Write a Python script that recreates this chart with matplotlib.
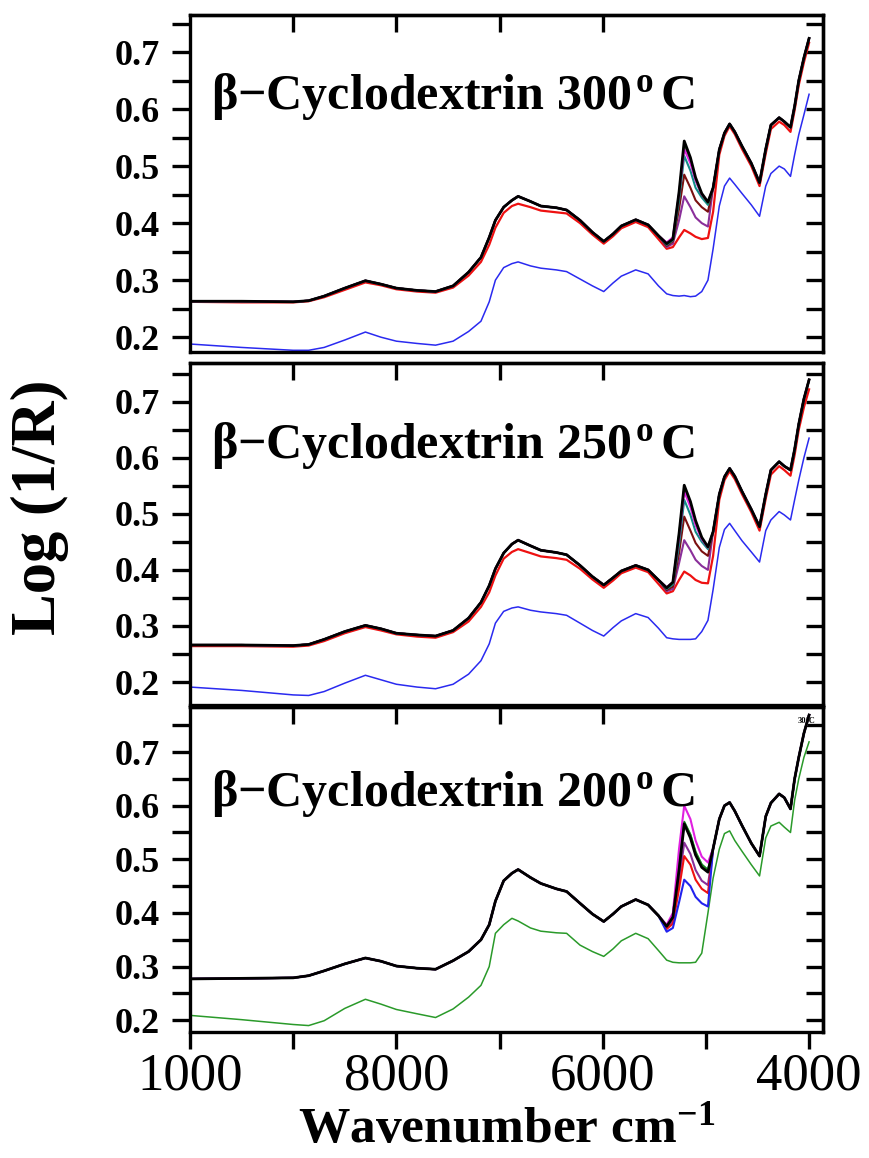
import matplotlib
matplotlib.use("Agg")
import matplotlib.pyplot as plt
from matplotlib.ticker import MultipleLocator, FixedLocator

plt.rcParams['font.family'] = ['Liberation Serif', 'DejaVu Serif']
plt.rcParams['mathtext.fontset'] = 'custom'
plt.rcParams['mathtext.rm'] = 'Liberation Serif'
plt.rcParams['mathtext.bf'] = 'Liberation Serif:bold'
plt.rcParams['mathtext.it'] = 'Liberation Serif:italic'

# wavenumber points (cm-1)
wn = [10000, 9500, 9000, 8850, 8700, 8500, 8300, 8150, 8000, 7800,
      7620, 7450, 7300, 7180, 7100, 7040, 6960, 6880, 6820, 6700,
      6600, 6450, 6350, 6220, 6100, 5990, 5900, 5820, 5680, 5560,
      5460, 5380, 5320, 5260, 5210, 5150, 5100, 5040, 4980, 4930,
      4870, 4820, 4770, 4720, 4650, 4560, 4480, 4420, 4370, 4290,
      4240, 4180, 4140, 4100, 4050, 4000]

# points of the 5200 band where the spectra spread apart
peak_wn = [5380, 5320, 5260, 5210, 5150, 5100, 5040, 4980]

# ---- 300 C
p300_black = [0.263, 0.263, 0.262, 0.264, 0.272, 0.286, 0.299, 0.293, 0.286, 0.282,
              0.280, 0.290, 0.314, 0.340, 0.375, 0.405, 0.428, 0.440, 0.447, 0.438,
              0.430, 0.427, 0.423, 0.405, 0.384, 0.368, 0.381, 0.395, 0.406, 0.397,
              0.378, 0.364, 0.372, 0.455, 0.544, 0.515, 0.480, 0.452, 0.437, 0.462,
              0.529, 0.558, 0.574, 0.560, 0.535, 0.505, 0.471, 0.530, 0.572, 0.585,
              0.578, 0.568, 0.605, 0.650, 0.690, 0.724]
p300_red = [0.262, 0.261, 0.261, 0.263, 0.270, 0.283, 0.296, 0.291, 0.284, 0.280,
            0.278, 0.287, 0.308, 0.332, 0.362, 0.392, 0.418, 0.430, 0.434, 0.428,
            0.422, 0.419, 0.417, 0.400, 0.380, 0.364, 0.377, 0.391, 0.402, 0.393,
            0.372, 0.355, 0.358, 0.375, 0.388, 0.382, 0.376, 0.372, 0.374, 0.420,
            0.520, 0.553, 0.570, 0.556, 0.530, 0.500, 0.465, 0.522, 0.565, 0.578,
            0.572, 0.560, 0.598, 0.642, 0.682, 0.716]
p300_low = [0.188, 0.182, 0.177, 0.177, 0.182, 0.195, 0.209, 0.200, 0.193, 0.189,
            0.186, 0.193, 0.210, 0.228, 0.262, 0.300, 0.322, 0.329, 0.332, 0.325,
            0.321, 0.318, 0.315, 0.302, 0.290, 0.280, 0.295, 0.307, 0.318, 0.311,
            0.290, 0.276, 0.273, 0.272, 0.273, 0.271, 0.272, 0.280, 0.300, 0.355,
            0.430, 0.465, 0.479, 0.468, 0.452, 0.432, 0.412, 0.465, 0.487, 0.500,
            0.495, 0.482, 0.520, 0.555, 0.590, 0.626]
p300_band = {
    'magenta': [0.366, 0.375, 0.452, 0.530, 0.505, 0.475, 0.450, 0.437],
    'green': [0.365, 0.374, 0.450, 0.538, 0.510, 0.476, 0.449, 0.436],
    'teal': [0.362, 0.370, 0.440, 0.518, 0.492, 0.462, 0.445, 0.432],
    'darkred': [0.360, 0.368, 0.425, 0.485, 0.462, 0.440, 0.428, 0.420],
    'purple': [0.358, 0.364, 0.405, 0.447, 0.428, 0.410, 0.400, 0.394],
}

# ---- 250 C
p250_black = [0.266, 0.266, 0.265, 0.267, 0.276, 0.290, 0.301, 0.295, 0.287, 0.284,
              0.282, 0.292, 0.314, 0.342, 0.372, 0.402, 0.430, 0.446, 0.453, 0.443,
              0.435, 0.431, 0.427, 0.408, 0.388, 0.373, 0.386, 0.398, 0.408, 0.400,
              0.382, 0.368, 0.378, 0.465, 0.551, 0.522, 0.488, 0.458, 0.441, 0.468,
              0.535, 0.566, 0.581, 0.567, 0.540, 0.508, 0.477, 0.535, 0.578, 0.593,
              0.585, 0.578, 0.615, 0.660, 0.705, 0.739]
p250_red = [0.264, 0.264, 0.263, 0.265, 0.273, 0.287, 0.298, 0.292, 0.285, 0.281,
            0.279, 0.289, 0.308, 0.334, 0.360, 0.390, 0.420, 0.432, 0.437, 0.430,
            0.424, 0.421, 0.418, 0.402, 0.383, 0.368, 0.381, 0.394, 0.404, 0.396,
            0.375, 0.358, 0.362, 0.382, 0.397, 0.390, 0.382, 0.377, 0.376, 0.425,
            0.525, 0.560, 0.576, 0.562, 0.535, 0.503, 0.470, 0.527, 0.570, 0.585,
            0.578, 0.568, 0.605, 0.650, 0.690, 0.722]
p250_low = [0.191, 0.185, 0.177, 0.176, 0.183, 0.198, 0.212, 0.204, 0.196, 0.191,
            0.188, 0.196, 0.214, 0.238, 0.268, 0.305, 0.326, 0.332, 0.334, 0.328,
            0.325, 0.322, 0.319, 0.305, 0.292, 0.282, 0.297, 0.309, 0.322, 0.315,
            0.296, 0.279, 0.277, 0.276, 0.276, 0.276, 0.277, 0.290, 0.310, 0.365,
            0.440, 0.472, 0.483, 0.470, 0.452, 0.432, 0.414, 0.470, 0.489, 0.504,
            0.498, 0.489, 0.525, 0.560, 0.600, 0.635]
p250_band = {
    'magenta': [0.369, 0.378, 0.458, 0.540, 0.512, 0.480, 0.455, 0.440],
    'green': [0.368, 0.377, 0.462, 0.545, 0.518, 0.484, 0.456, 0.440],
    'teal': [0.366, 0.374, 0.445, 0.525, 0.498, 0.468, 0.450, 0.437],
    'darkred': [0.364, 0.370, 0.430, 0.495, 0.470, 0.448, 0.433, 0.425],
    'purple': [0.362, 0.366, 0.412, 0.453, 0.435, 0.418, 0.407, 0.400],
}

# ---- 200 C
p200_black = [0.277, 0.278, 0.279, 0.283, 0.292, 0.305, 0.316, 0.310, 0.301, 0.297,
              0.295, 0.311, 0.328, 0.350, 0.378, 0.422, 0.460, 0.474, 0.481, 0.466,
              0.455, 0.445, 0.440, 0.418, 0.398, 0.384, 0.398, 0.412, 0.425, 0.415,
              0.395, 0.375, 0.392, 0.480, 0.566, 0.540, 0.508, 0.485, 0.476, 0.520,
              0.575, 0.600, 0.606, 0.590, 0.563, 0.530, 0.506, 0.580, 0.605, 0.622,
              0.615, 0.594, 0.650, 0.690, 0.735, 0.769]
p200_low = [0.209, 0.201, 0.192, 0.190, 0.199, 0.222, 0.239, 0.230, 0.220, 0.212,
            0.205, 0.221, 0.243, 0.265, 0.300, 0.362, 0.378, 0.390, 0.385, 0.372,
            0.366, 0.363, 0.362, 0.340, 0.328, 0.319, 0.333, 0.348, 0.362, 0.352,
            0.330, 0.312, 0.308, 0.307, 0.307, 0.307, 0.308, 0.325, 0.400, 0.465,
            0.519, 0.548, 0.553, 0.535, 0.515, 0.490, 0.469, 0.540, 0.562, 0.569,
            0.560, 0.550, 0.610, 0.650, 0.690, 0.719]
p200_band = {
    'magenta': [0.378, 0.400, 0.520, 0.600, 0.575, 0.535, 0.505, 0.494],
    'green': [0.376, 0.396, 0.488, 0.570, 0.546, 0.514, 0.490, 0.480],
    'teal': [0.376, 0.395, 0.490, 0.568, 0.545, 0.512, 0.490, 0.480],
    'purple': [0.372, 0.385, 0.460, 0.531, 0.510, 0.480, 0.460, 0.452],
    'red': [0.370, 0.380, 0.445, 0.506, 0.490, 0.462, 0.445, 0.437],
    'blue': [0.365, 0.372, 0.420, 0.462, 0.450, 0.430, 0.418, 0.412],
}

titles = ["\u03b2\u2212Cyclodextrin 300$^{\\,\\mathbf{o}}\\,$C",
          "\u03b2\u2212Cyclodextrin 250$^{\\,\\mathbf{o}}\\,$C",
          "\u03b2\u2212Cyclodextrin 200$^{\\,\\mathbf{o}}\\,$C"]
xtick_vals = [10000, 8000, 6000, 4000]
xtick_labels = ["1000", "8000", "6000", "4000"]
ytick_vals = [0.2, 0.3, 0.4, 0.5, 0.6, 0.7]
ytick_labels = ["0.2", "0.3", "0.4", "0.5", "0.6", "0.7"]

band_colors = {'magenta': '#e020e0', 'green': '#1a8a1a', 'teal': '#138a8a',
               'darkred': '#7a1010', 'purple': '#8a2f9a', 'red': '#ee1111',
               'blue': '#2222ee'}


def with_band(base, band):
    out = list(base)
    for w, v in zip(peak_wn, band):
        out[wn.index(w)] = v
    return out


W, H = 869, 1158
fig = plt.figure(figsize=(W / 100, H / 100), dpi=100)
left, right = 190, 823
# (top px, bottom px, ylim)
panels = [(15, 352, (0.174, 0.765)),
          (363, 705, (0.159, 0.769)),
          (707, 1032, (0.178, 0.784))]

sets = [
    (p300_black, p300_red, p300_low, '#2a2af0', p300_band),
    (p250_black, p250_red, p250_low, '#2a2af0', p250_band),
    (p200_black, None, p200_low, '#2a9a2a', p200_band),
]

spine_w = 2.4
for i, ((top, bot, ylim), (black, red, low, low_col, band), title) in enumerate(zip(panels, sets, titles)):
    ax = fig.add_axes([left / W, 1 - bot / H, (right - left) / W, (bot - top) / H])
    ax.plot(wn, low, color=low_col, lw=1.1)
    if red is not None:
        ax.plot(wn, red, color=band_colors['red'], lw=1.6)
    for name in ['purple', 'darkred', 'red', 'blue', 'teal', 'green', 'magenta']:
        if name in band:
            ax.plot(wn, with_band(black, band[name]), color=band_colors[name], lw=1.5)
    ax.plot(wn, black, color='black', lw=2.0)

    ax.set_xlim(10000, 3865)
    ax.set_ylim(*ylim)
    for s in ax.spines.values():
        s.set_linewidth(spine_w)

    ax.yaxis.set_major_locator(FixedLocator(ytick_vals))
    ax.set_yticklabels(ytick_labels, fontsize=26, fontweight='bold')
    ax.yaxis.set_minor_locator(MultipleLocator(0.05))
    ax.tick_params(axis='y', which='both', direction='out', length=13, width=2.4,
                   left=True, right=False, pad=9)

    sy = ax.secondary_yaxis('right')
    sy.yaxis.set_major_locator(MultipleLocator(0.05))
    sy.tick_params(direction='in', length=12, width=2.4, labelright=False)
    sy.spines['right'].set_linewidth(spine_w)

    sx = ax.secondary_xaxis('top')
    sx.xaxis.set_major_locator(FixedLocator([9000, 8000, 7000, 6000]))
    sx.tick_params(direction='in', length=12, width=2.4, labeltop=False)
    sx.spines['top'].set_linewidth(spine_w)

    if i == 2:
        ax.set_xticks(xtick_vals, labels=xtick_labels, fontsize=38)
        ax.xaxis.set_minor_locator(FixedLocator([9000, 7000, 5000]))
        ax.tick_params(axis='x', which='both', direction='out', length=12, width=2.4, pad=3)
        ax.text(4020, 0.757, "30\u00b0C", fontsize=6, fontweight='bold', ha='center', va='center')
    else:
        ax.tick_params(axis='x', which='both', bottom=False, labelbottom=False)

    ax.text(9800, 0.600, title, fontsize=36, fontweight='bold', ha='left', va='baseline')

fig.text(0.046, 0.562, "Log (1/R)", rotation=90, fontsize=45, fontweight='bold',
         ha='center', va='center')
fig.text(0.583, 0.024, "Wavenumber cm$^{\\mathbf{-1}}$", fontsize=37, fontweight='bold',
         ha='center', va='center')

fig.savefig("out.png", dpi=100)
